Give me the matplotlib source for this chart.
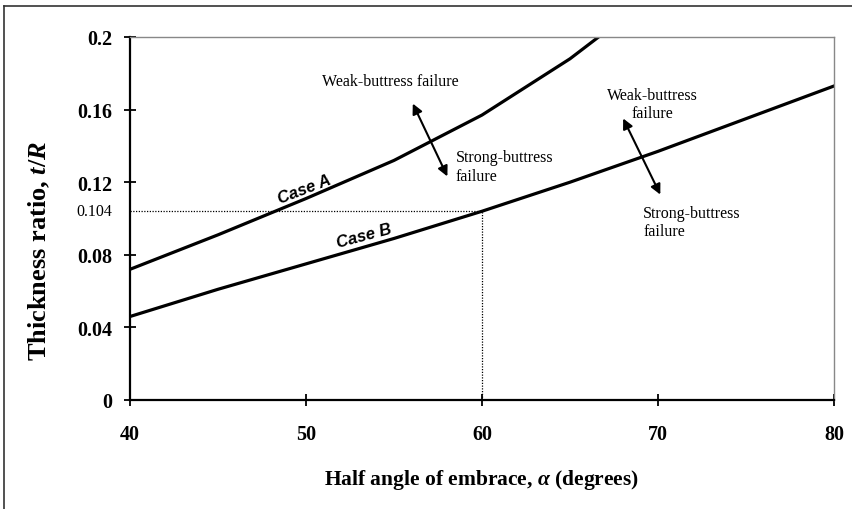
import matplotlib
matplotlib.use("Agg")
import matplotlib.pyplot as plt
from matplotlib.lines import Line2D

plt.rcParams['font.family'] = ['Liberation Serif', 'DejaVu Serif']
plt.rcParams['mathtext.fontset'] = 'custom'
plt.rcParams['mathtext.rm'] = 'Liberation Serif:bold'
plt.rcParams['mathtext.it'] = 'Liberation Serif:italic:bold'
plt.rcParams['mathtext.bf'] = 'Liberation Serif:bold'

# data
alpha = [40, 45, 50, 55, 60, 65, 70, 75, 80]
case_a = [0.072, 0.091, 0.111, 0.132, 0.157, 0.188, 0.225, None, None]
case_b = [0.046, 0.061, 0.075, 0.089, 0.104, 0.120, 0.137, 0.155, 0.173]
xticks = [40, 50, 60, 70, 80]
yticks = [0, 0.04, 0.08, 0.12, 0.16, 0.2]
ytick_labels = ['0', '0.04', '0.08', '0.12', '0.16', '0.2']
design_alpha = 60
design_ratio = 0.104

fig = plt.figure(figsize=(8.52, 5.10), dpi=100)
ax = fig.add_axes([130 / 852, 1 - 401 / 510, 704 / 852, 363 / 510])

xa = [a for a, v in zip(alpha, case_a) if v is not None]
ya = [v for v in case_a if v is not None]
ax.plot(xa, ya, color='black', lw=2.3)
ax.plot(alpha, case_b, color='black', lw=2.3)

# design point guides
ax.plot([40, design_alpha], [design_ratio, design_ratio], color='black', lw=0.9, ls=(0, (1, 1.2)))
ax.plot([design_alpha, design_alpha], [0, design_ratio], color='black', lw=0.9, ls=(0, (1, 1.2)))

ax.set_xlim(40, 80)
ax.set_ylim(0, 0.2)
ax.set_xticks(xticks)
ax.set_xticklabels([str(t) for t in xticks], fontsize=14.5, fontweight='bold')
ax.set_yticks(yticks)
ax.set_yticklabels(ytick_labels, fontsize=14.5, fontweight='bold')
ax.tick_params(direction='inout', length=9, width=1.3, pad=8)
ax.tick_params(axis='x', pad=13)

ax.text(39.0, design_ratio, '0.104', ha='right', va='center', fontsize=11.5)

for s in ['left', 'bottom']:
    ax.spines[s].set_linewidth(1.6)
for s in ['top', 'right']:
    ax.spines[s].set_color('#888888')
    ax.spines[s].set_linewidth(1.0)

ax.set_xlabel(r'Half angle of embrace, $\alpha$ (degrees)', fontsize=15.5, fontweight='bold', labelpad=16)
fig.text(39 / 852, 1 - 251 / 510, r'Thickness ratio, $t/R$', rotation=90, ha='center', va='center',
         fontsize=19, fontweight='bold')

# curve labels
ax.text(49.9, 0.1165, 'Case A', rotation=21, ha='center', va='center',
        fontsize=12, fontweight='bold', style='italic', family='Liberation Sans')
ax.text(53.3, 0.0905, 'Case B', rotation=15, ha='center', va='center',
        fontsize=12, fontweight='bold', style='italic', family='Liberation Sans')

# failure annotations
ax.text(54.8, 0.1758, 'Weak-buttress failure', ha='center', va='center', fontsize=11.5)
ax.annotate('', xy=(56.0, 0.1647), xytext=(58.1, 0.1218),
            arrowprops=dict(arrowstyle='<|-|>', color='black', lw=1.5, mutation_scale=15))
ax.text(58.5, 0.1287, 'Strong-buttress\nfailure', ha='left', va='center', fontsize=11.5, linespacing=1.2)

ax.text(69.7, 0.163, 'Weak-buttress\nfailure', ha='center', va='center', fontsize=11.5, linespacing=1.2)
ax.annotate('', xy=(67.95, 0.1565), xytext=(70.2, 0.1118),
            arrowprops=dict(arrowstyle='<|-|>', color='black', lw=1.5, mutation_scale=15))
ax.text(69.15, 0.098, 'Strong-buttress\nfailure', ha='left', va='center', fontsize=11.5, linespacing=1.2)

# outer frame (left and top edges)
fig.add_artist(Line2D([4 / 852, 4 / 852], [0, 1 - 7 / 510], color='#333333', lw=1.2))
fig.add_artist(Line2D([4 / 852, 1], [1 - 7 / 510, 1 - 7 / 510], color='#333333', lw=1.2))

fig.savefig('out.png', dpi=100)
